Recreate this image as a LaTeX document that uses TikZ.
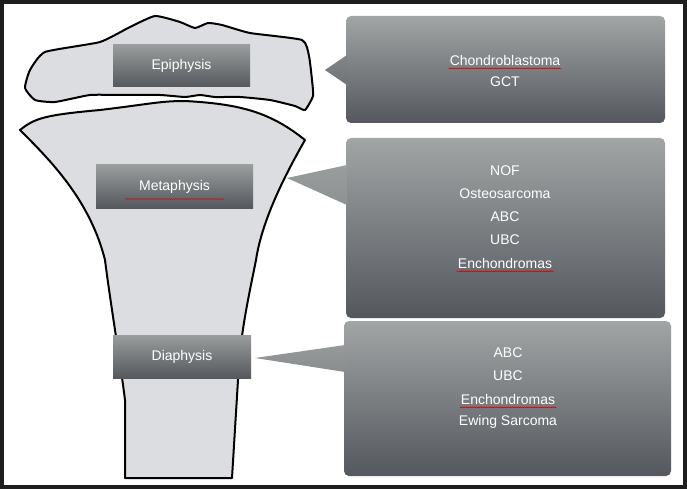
\documentclass[tikz,border=0pt]{standalone}
\usepackage{fontspec}
\setmainfont{Liberation Sans}
\usetikzlibrary{decorations.pathmorphing}
\definecolor{frm}{HTML}{1E1E1E}
\definecolor{bonef}{HTML}{DCDDE0}
\definecolor{gtop}{HTML}{A2A5A5}
\definecolor{gbot}{HTML}{54575D}
\definecolor{ltop}{HTML}{9A9D9D}
\definecolor{lbot}{HTML}{55585D}
\begin{document}
\begin{tikzpicture}[x=1pt,y=-1pt,
  bone/.style={fill=bonef,draw=black,line width=2pt,line join=round},
  lab/.style={draw=none,top color=ltop,bottom color=lbot,text=white,font=\fontsize{14}{16}\selectfont,inner sep=0},
  callout/.style={top color=gtop,bottom color=gbot,draw=none},
  txt/.style={text=white,font=\fontsize{14}{16}\selectfont,inner sep=1pt},
  sq/.style={red!85!black,line width=0.5pt,decorate,decoration={snake,amplitude=0.5pt,segment length=2pt}}]
\useasboundingbox (0,0) rectangle (687,489);
\fill[frm] (0,0) rectangle (687,489);
\fill[white] (4,4) rectangle (683,485);
% epiphysis
\draw[bone] plot[smooth cycle,tension=0.3] coordinates {(45,52) (100,42) (130,27) (155,16) (180,22) (195,28) (208,23) (222,25) (250,33) (302,40) (309,56) (312,80) (313,96) (305,110) (295,106) (270,100) (240,97) (215,97) (200,95) (185,97) (160,95) (120,95) (90,95) (55,102) (35,100) (25,88) (30,70)};
% metaphysis + diaphysis
\draw[bone] (20,130) .. controls (35,118) and (45,115) .. (100,110)
  .. controls (150,104) and (160,101) .. (185,101)
  .. controls (240,104) and (270,112) .. (305,140)
  .. controls (285,175) and (262,220) .. (256,260)
  .. controls (248,300) and (240,335) .. (238,380)
  -- (232,478) -- (125,478) -- (125,400)
  .. controls (120,360) and (110,300) .. (105,260)
  .. controls (90,200) and (50,160) .. (20,130) -- cycle;
% labels
\node[lab,minimum width=137pt,minimum height=42pt] (epi) at (181.5,66) {Epiphysis};
\node[lab,minimum width=157pt,minimum height=43pt] (meta) at (174.5,186.5) {Metaphysis};
\node[lab,minimum width=138pt,minimum height=43pt] (dia) at (182,356.5) {Diaphysis};
% callouts
\path[callout,rounded corners=5pt] (346,16) rectangle (665,123);
\path[top color=gtop!60!gbot,bottom color=gtop!35!gbot] (347,55) -- (325,70) -- (347,85) -- cycle;
\path[callout,rounded corners=5pt] (346,138) rectangle (665,318);
\path[top color=gtop!90!gbot,bottom color=gtop!75!gbot] (347,165) -- (287,178) -- (347,205) -- cycle;
\path[callout,rounded corners=5pt] (344,321) rectangle (671,476);
\path[top color=gtop!85!gbot,bottom color=gtop!70!gbot] (345,345) -- (255,358) -- (345,372) -- cycle;
% texts
\node[txt] (c1) at (505,60) {Chondroblastoma};
\node[txt] (c2) at (505,82) {GCT};
\node[txt] (m1) at (505,171) {NOF};
\node[txt] (m2) at (505,194) {Osteosarcoma};
\node[txt] (m3) at (505,217) {ABC};
\node[txt] (m4) at (505,240) {UBC};
\node[txt] (m5) at (505,263) {Enchondromas};
\node[txt] (d1) at (508,353) {ABC};
\node[txt] (d2) at (508,376) {UBC};
\node[txt] (d3) at (508,399) {Enchondromas};
\node[txt] (d4) at (508,422) {Ewing Sarcoma};
% spell-check underlines
\draw[sq] ([yshift=-2pt]c1.south west) -- ([yshift=-2pt]c1.south east);
\draw[sq] ([yshift=-2pt]m5.south west) -- ([yshift=-2pt]m5.south east);
\draw[sq] ([yshift=-2pt]d3.south west) -- ([yshift=-2pt]d3.south east);
\draw[sq] (125,199) -- (224,199);
\end{tikzpicture}
\end{document}
